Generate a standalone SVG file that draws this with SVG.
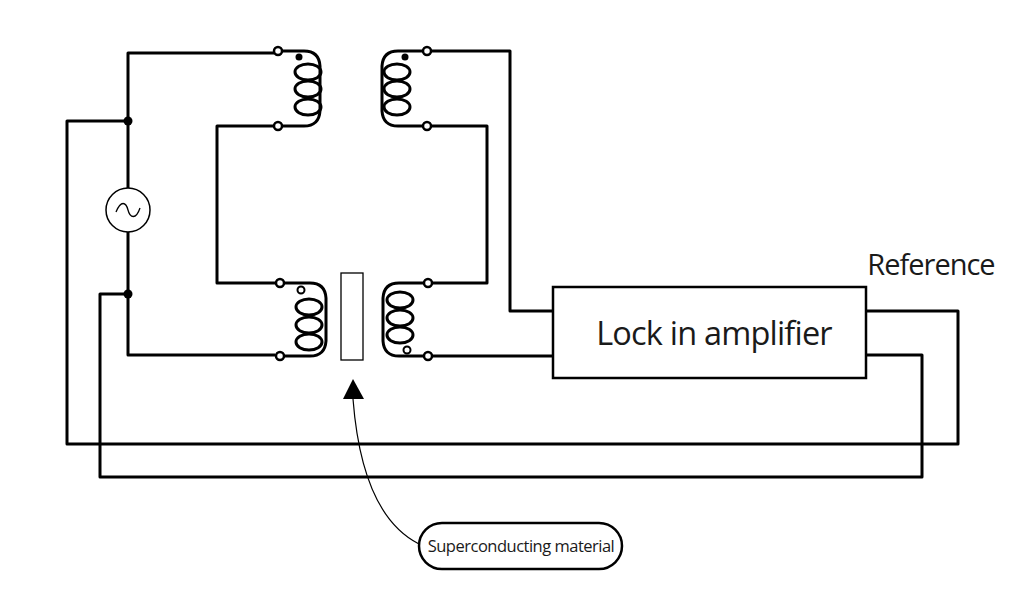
<svg xmlns="http://www.w3.org/2000/svg" width="1030" height="602" viewBox="0 0 1030 602">
<style>
.w{fill:none;stroke:#000;stroke-width:3;stroke-linejoin:round}
.t{fill:#fff;stroke:#000;stroke-width:2.5}
.c{fill:none;stroke:#000;stroke-width:3}
.txt{font-family:"Open Sans",sans-serif;fill:#1a1a1a}
</style>
<rect width="1030" height="602" fill="#fff"/>
<g id="connectors">
<path class="w" d="M274,53 H128 V355 H275"/>
<path class="w" d="M128,121 H67 V444 H958 V311 H866"/>
<path class="w" d="M128,294 H100 V477 H922 V355 H866"/>
<path class="w" d="M274,126 H217 V283 H276"/>
<path class="w" d="M431,51 H510 V311 H553"/>
<path class="w" d="M431,126 H487 V283 H432"/>
<path class="w" d="M432,356 H553"/>
<circle cx="128" cy="121" r="4.5"/>
<circle cx="128" cy="294" r="4.5"/>
<path d="M353,399 Q362,515 419,544" fill="none" stroke="#000" stroke-width="1.2"/>
<polygon points="353,379 343,399 364,399"/>
</g>
<g id="source">
<circle cx="128" cy="210" r="22" fill="#fff" stroke="#000" stroke-width="1.5"/>
<path d="M116,212 C121,200 126,202 128,210 C130,218 136,220 140,208" fill="none" stroke="#000" stroke-width="1.3"/>
</g>
<g id="coil-top-left">
<path class="w" d="M282,51 H304 Q319,51 320,66 V111 Q319,126 304,126 H282"/>
<ellipse class="c" cx="308" cy="72" rx="13" ry="8"/>
<ellipse class="c" cx="308" cy="89" rx="13" ry="8"/>
<ellipse class="c" cx="308" cy="107" rx="13" ry="8"/>
<circle cx="299" cy="57" r="3.5"/>
<circle class="t" cx="278" cy="51" r="4"/>
<circle class="t" cx="278" cy="126" r="4"/>
</g>
<g id="coil-top-right">
<path class="w" d="M423,51 H398 Q383,51 382,66 V111 Q383,126 398,126 H423"/>
<ellipse class="c" cx="397" cy="72" rx="13" ry="8"/>
<ellipse class="c" cx="397" cy="89" rx="13" ry="8"/>
<ellipse class="c" cx="397" cy="107" rx="13" ry="8"/>
<circle cx="405" cy="57" r="3.5"/>
<circle class="t" cx="427" cy="51" r="4"/>
<circle class="t" cx="427" cy="126" r="4"/>
</g>
<g id="coil-bottom-left">
<path class="w" d="M284,283 H310 Q325,283 326,298 V341 Q325,356 310,356 H284"/>
<ellipse class="c" cx="309" cy="307" rx="13" ry="8"/>
<ellipse class="c" cx="309" cy="325" rx="13" ry="8"/>
<ellipse class="c" cx="309" cy="342" rx="13" ry="8"/>
<circle cx="301" cy="290" r="3.5" fill="#fff" stroke="#000" stroke-width="2"/>
<circle class="t" cx="280" cy="283" r="4"/>
<circle class="t" cx="280" cy="356" r="4"/>
</g>
<g id="material">
<rect x="341" y="273" width="22" height="87" fill="#fff" stroke="#000" stroke-width="1.3"/>
</g>
<g id="coil-bottom-right">
<path class="w" d="M424,283 H399 Q384,283 383,298 V341 Q384,356 399,356 H424"/>
<ellipse class="c" cx="400" cy="300" rx="13" ry="8"/>
<ellipse class="c" cx="400" cy="318" rx="13" ry="8"/>
<ellipse class="c" cx="400" cy="335" rx="13" ry="8"/>
<circle cx="407" cy="350" r="3.5" fill="#fff" stroke="#000" stroke-width="2"/>
<circle class="t" cx="428" cy="283" r="4"/>
<circle class="t" cx="428" cy="356" r="4"/>
</g>
<g id="lockin">
<rect x="553" y="287" width="313" height="91" fill="#fff" stroke="#000" stroke-width="2.5"/>
<text class="txt" x="714" y="345" font-size="32.5" text-anchor="middle" letter-spacing="-0.8">Lock in amplifier</text>
</g>
<g id="reference">
<text class="txt" x="931" y="275" font-size="29" text-anchor="middle" letter-spacing="-1">Reference</text>
</g>
<g id="callout">
<rect x="419" y="523" width="203" height="46" rx="23" fill="#fff" stroke="#000" stroke-width="2.5"/>
<text class="txt" x="521" y="552" font-size="16.5" text-anchor="middle" letter-spacing="-0.5">Superconducting material</text>
</g>
</svg>
